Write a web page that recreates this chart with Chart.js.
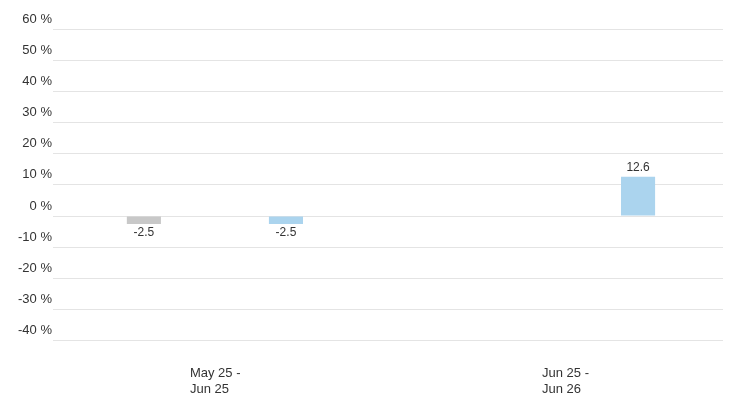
<!DOCTYPE html>
<html>
<head>
<meta charset="utf-8">
<script src="https://cdn.jsdelivr.net/npm/chart.js@4/dist/chart.umd.min.js"></script>
<style>
    html, body { margin: 0; padding: 0; background: #fff; }
    #wrap { width: 730px; height: 394px; position: relative; }
</style>
</head>
<body>
<div id="wrap"><canvas id="chart-periodos"></canvas></div>
<script>
const categorias = [['May 25 -', 'Jun 25'], ['Jun 25 -', 'Jun 26']];
const serieCinza = [-2.5, null];
const serieAzul = [-2.5, 12.6];
const yTicks = [-40, -30, -20, -10, 0, 10, 20, 30, 40, 50, 60];

const fonte = '"Liberation Sans", Arial, sans-serif';
const corTexto = '#333333';

// rótulos de valor acima / abaixo de cada barra
const rotulosValor = {
    id: 'rotulosValor',
    afterDatasetsDraw(chart) {
        const ctx = chart.ctx;
        ctx.save();
        ctx.font = `12px ${fonte}`;
        ctx.fillStyle = corTexto;
        ctx.textAlign = 'center';
        chart.data.datasets.forEach((ds, di) => {
            chart.getDatasetMeta(di).data.forEach((bar, i) => {
                const v = ds.data[i].y;
                if (v === null || v === undefined) return;
                if (v >= 0) {
                    ctx.textBaseline = 'bottom';
                    ctx.fillText(v.toFixed(1), bar.x, bar.y - 3);
                } else {
                    ctx.textBaseline = 'top';
                    ctx.fillText(v.toFixed(1), bar.x, bar.y + 3);
                }
            });
        });
        ctx.restore();
    }
};

const toPontos = serie => serie.map((y, i) => ({ x: i, y }));

new Chart(document.getElementById('chart-periodos'), {
    type: 'bar',
    data: {
        datasets: [
            {
                label: 'A',
                data: toPontos(serieCinza),
                backgroundColor: '#c8c8c8',
                borderWidth: 0,
                categoryPercentage: 0.807,
                barPercentage: 0.24
            },
            {
                label: 'B',
                data: toPontos(serieAzul),
                backgroundColor: '#abd4ee',
                borderWidth: 0,
                categoryPercentage: 0.807,
                barPercentage: 0.24
            }
        ]
    },
    plugins: [rotulosValor],
    options: {
        responsive: true,
        maintainAspectRatio: false,
        animation: false,
        layout: { padding: { left: 17, right: 7, top: 29, bottom: -20 } },
        plugins: {
            legend: { display: false },
            tooltip: { enabled: false }
        },
        scales: {
            x: {
                type: 'linear',
                offset: false,
                min: -0.46,
                max: 1.443,
                afterBuildTicks(scale) {
                    scale.ticks = categorias.map((_, i) => ({ value: i }));
                },
                grid: { display: false },
                border: { display: false },
                ticks: {
                    autoSkip: false,
                    maxRotation: 0,
                    align: 'start',
                    labelOffset: -25,
                    padding: 17,
                    color: corTexto,
                    font: { family: fonte, size: 13, lineHeight: 1.2 },
                    callback(value) {
                        return categorias[value] || '';
                    }
                }
            },
            y: {
                min: -40,
                max: 60,
                afterBuildTicks(scale) {
                    scale.ticks = yTicks.map(v => ({ value: v }));
                },
                grid: { color: '#e4e4e4', lineWidth: 1, drawTicks: false },
                border: { display: false },
                ticks: {
                    padding: 1,
                    labelOffset: -10,
                    color: corTexto,
                    font: { family: fonte, size: 13 },
                    callback(value) {
                        return `${value} %`;
                    }
                }
            }
        }
    }
});
</script>
</body>
</html>
